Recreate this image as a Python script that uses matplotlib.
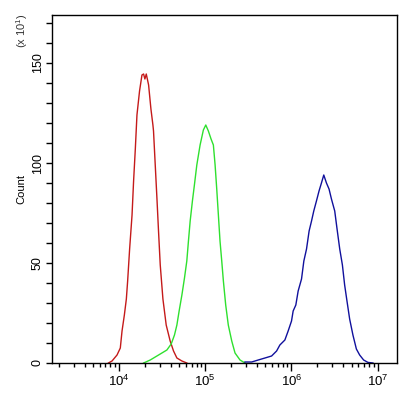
import numpy as np
import matplotlib.pyplot as plt
from matplotlib.ticker import LogLocator, MultipleLocator, NullFormatter

plt.rcParams['font.family'] = ['Liberation Sans', 'DejaVu Sans']
plt.rcParams['mathtext.fontset'] = 'custom'
plt.rcParams['mathtext.rm'] = 'Liberation Sans'

# histogrammes : log10(fluorescence) et nombre d'evenements (x10)
red_log = [3.879, 3.921, 3.979, 4.017, 4.037, 4.064, 4.087, 4.102, 4.125, 4.153,
           4.171, 4.191, 4.210, 4.240, 4.268, 4.287, 4.302, 4.318, 4.345, 4.372,
           4.395, 4.402, 4.422, 4.442, 4.460, 4.480, 4.511, 4.549, 4.595, 4.634,
           4.673, 4.731, 4.788]
red_count = [0, 1, 4, 7.5, 16, 24, 32, 41, 57, 74,
             91, 107, 124, 136, 144, 144.5, 142, 144.5, 139, 127,
             119, 116, 99, 82, 66, 49, 32, 19, 11, 6,
             2.5, 1, 0]

green_log = [4.287, 4.364, 4.422, 4.480, 4.557, 4.607, 4.645, 4.673, 4.699, 4.731,
             4.761, 4.788, 4.807, 4.827, 4.853, 4.876, 4.904, 4.942, 4.980, 5.008,
             5.038, 5.069, 5.096, 5.116, 5.135, 5.154, 5.173, 5.193, 5.212, 5.239,
             5.269, 5.309, 5.347, 5.405, 5.462]
green_count = [0, 1.5, 3, 4.5, 6.5, 9.5, 14, 19, 26, 34,
               42.5, 51, 61, 71, 81, 89, 99, 109, 116.5, 119,
               116, 112, 109, 99, 87, 74, 61, 51, 41, 29,
               19, 11, 5, 1.5, 0]

blue_log = [5.462, 5.540, 5.616, 5.694, 5.771, 5.829, 5.867, 5.925, 5.963, 6.002,
            6.021, 6.052, 6.079, 6.118, 6.145, 6.176, 6.206, 6.234, 6.260, 6.291,
            6.321, 6.349, 6.376, 6.407, 6.437, 6.465, 6.503, 6.530, 6.561, 6.592,
            6.618, 6.645, 6.676, 6.714, 6.754, 6.792, 6.838, 6.888, 6.946]
blue_count = [0.5, 0.5, 1.5, 2.5, 3.5, 6, 9, 11.5, 16, 21,
              26, 29, 36, 42, 51, 57, 66, 71, 76, 81,
              86, 90, 94, 90, 87, 82, 76, 67, 57, 49,
              39, 31, 22, 14, 7, 4, 1.5, 0.3, 0]

series = [(red_log, red_count, '#c41a1a'),
          (green_log, green_count, '#2ee02e'),
          (blue_log, blue_count, '#10109c')]

fig = plt.figure(figsize=(4.16, 3.93), dpi=100)
ax = fig.add_axes([52 / 416, 30 / 393, 345 / 416, 348 / 393])

for lg, cnt, col in series:
    ax.plot(10 ** np.array(lg), cnt, color=col, lw=1.0)

ax.set_xscale('log')
ax.set_xlim(10 ** 3.225, 10 ** 7.225)
ax.set_ylim(0, 174)

ax.xaxis.set_major_locator(LogLocator(base=10, numticks=10))
ax.xaxis.set_minor_locator(LogLocator(base=10, subs=np.arange(2, 10), numticks=10))
ax.xaxis.set_minor_formatter(NullFormatter())
ax.yaxis.set_major_locator(MultipleLocator(50))
ax.yaxis.set_minor_locator(MultipleLocator(10))

ax.tick_params(axis='x', which='major', length=6, width=1, labelsize=9.5, pad=2)
ax.tick_params(axis='x', which='minor', length=3, width=1)
ax.tick_params(axis='y', which='both', length=4, width=1, labelsize=9, pad=2)
for lab in ax.get_yticklabels():
    lab.set_rotation(90)
    lab.set_va('center')

for sp in ax.spines.values():
    sp.set_linewidth(1)

ax.set_ylabel('Count', fontsize=8, labelpad=4)
fig.text(22 / 416, 1 - 31 / 393, r'(x 10$^{1}$)', rotation=90, fontsize=8,
         ha='center', va='center', color='#333333')

fig.savefig('out.png', dpi=100)
